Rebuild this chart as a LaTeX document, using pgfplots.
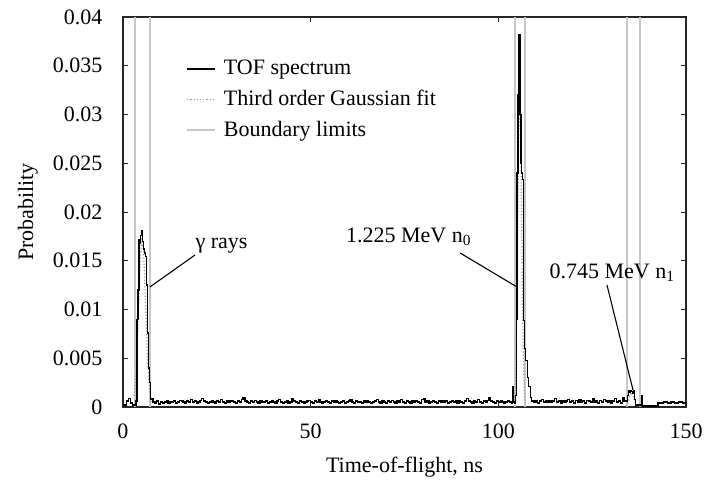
\documentclass[border=0pt]{standalone}
\usepackage{fontspec}
\setmainfont{Liberation Serif}
\usepackage{pgfplots}
\pgfplotsset{compat=1.18}
\definecolor{axisgray}{gray}{0.15}
\definecolor{boundgray}{gray}{0.78}
\definecolor{fitgray}{gray}{0.6}
\begin{document}
\fontsize{22bp}{26bp}\selectfont
\begin{tikzpicture}
\begin{axis}[
  scale only axis, width=563bp, height=390bp,
  xmin=0, xmax=150, ymin=0, ymax=0.04,
  xtick={0,50,100,150},
  ytick={0,0.005,0.01,0.015,0.02,0.025,0.03,0.035,0.04},
  scaled y ticks=false,
  /pgf/number format/assume math mode=true,
  yticklabel style={/pgf/number format/fixed,/pgf/number format/precision=3,xshift=-13bp},
  xticklabel style={yshift=-9bp},
  xlabel={Time-of-flight, ns}, ylabel={Probability},
  ylabel style={at={(axis description cs:-0.169,0.5)}, anchor=center},
  xlabel style={at={(axis description cs:0.5,-0.154)}, anchor=center},
  axis line style={line width=1.2bp, axisgray},
  every tick/.style={axisgray, line width=0.8bp},
  major tick length=5bp,
  legend style={draw=none, fill=none, at={(axis description cs:0.107,0.90)}, anchor=north west, row sep=8bp, column sep=6bp, font=\fontsize{22bp}{26bp}\selectfont},
  legend cell align=left,
  legend image code/.code={\draw[#1] (0bp,0bp) -- (28bp,0bp);},
]
% boundary limits
\addplot[boundgray, line width=1.5bp, forget plot] coordinates {(3.2,0) (3.2,0.04)};
\addplot[boundgray, line width=1.5bp, forget plot] coordinates {(7.2,0) (7.2,0.04)};
\addplot[boundgray, line width=1.5bp, forget plot] coordinates {(104.4,0) (104.4,0.04)};
\addplot[boundgray, line width=1.5bp, forget plot] coordinates {(107.1,0) (107.1,0.04)};
\addplot[boundgray, line width=1.5bp, forget plot] coordinates {(134.3,0) (134.3,0.04)};
\addplot[boundgray, line width=1.5bp, forget plot] coordinates {(137.8,0) (137.8,0.04)};
% Gaussian fits
\addplot[fitgray, dotted, line width=1.2bp, forget plot] coordinates {
(3.0,0.00115) (3.5,0.0036) (4.0,0.0083) (4.5,0.0140) (5.0,0.0174) (5.5,0.0159) (6.0,0.0106) (6.5,0.0052) (7.0,0.0019) (7.5,0.0005)};
\addplot[fitgray, dotted, line width=1.2bp, forget plot] coordinates {
(104.2,0.00036) (104.45,0.0014) (104.7,0.0043) (104.95,0.0104) (105.2,0.0194) (105.45,0.0282) (105.7,0.032) (105.95,0.0282) (106.2,0.0194) (106.45,0.0104) (106.7,0.0043) (106.95,0.0014) (107.2,0.00036)};
\addplot[fitgray, dotted, line width=1.2bp, forget plot] coordinates {
(134.0,0.00007) (134.5,0.00037) (135.0,0.00106) (135.5,0.0015) (136.0,0.00106) (136.5,0.00037) (137.0,0.00007)};
% TOF spectrum
\addplot[black, line width=1.3bp, const plot, y filter/.expression={y*0.0001}] table {
x y
0.0 2
0.5 2
1.0 6
1.5 9
2.0 4
2.5 2
3.0 2
3.5 6
3.75 90
4.0 120
4.25 172
4.5 168
4.75 176
5.0 181
5.25 170
5.5 162
5.75 158
6.0 154
6.25 125
6.5 76
6.75 40
7.0 25
7.25 8
7.5 9
8.0 5
8.5 4
9.0 6
9.5 3
10.0 5
10.5 4
11.0 5
11.5 6
12.0 4
12.5 5
13.0 5
13.5 6
14.0 4
14.5 5
15.0 7
15.5 6
16.0 5
16.5 4
17.0 6
17.5 5
18.0 8
18.5 5
19.0 6
19.5 4
20.0 5
20.5 7
21.0 9
21.5 6
22.0 5
22.5 4
23.0 5
23.5 6
24.0 5
24.5 4
25.0 6
25.5 5
26.0 8
26.5 5
27.0 4
27.5 6
28.0 5
28.5 7
29.0 6
29.5 5
30.0 4
30.5 6
31.0 5
31.5 8
32.0 10
32.5 6
33.0 5
33.5 4
34.0 6
34.5 5
35.0 7
35.5 5
36.0 4
36.5 6
37.0 5
37.5 5
38.0 6
38.5 4
39.0 5
39.5 7
40.0 5
40.5 4
41.0 6
41.5 8
42.0 5
42.5 4
43.0 5
43.5 6
44.0 4
44.5 5
45.0 9
45.5 6
46.0 5
46.5 4
47.0 6
47.5 5
48.0 4
48.5 5
49.0 6
49.5 7
50.0 5
50.5 4
51.0 6
51.5 5
52.0 8
52.5 5
53.0 4
53.5 5
54.0 6
54.5 5
55.0 4
55.5 6
56.0 5
56.5 7
57.0 5
57.5 4
58.0 5
58.5 6
59.0 4
59.5 5
60.0 6
60.5 8
61.0 5
61.5 4
62.0 6
62.5 5
63.0 5
63.5 4
64.0 6
64.5 5
65.0 7
65.5 5
66.0 4
66.5 5
67.0 6
67.5 8
68.0 5
68.5 4
69.0 6
69.5 5
70.0 4
70.5 6
71.0 5
71.5 7
72.0 5
72.5 4
73.0 6
73.5 5
74.0 8
74.5 5
75.0 4
75.5 6
76.0 5
76.5 4
77.0 7
77.5 5
78.0 6
78.5 5
79.0 4
79.5 8
80.0 9
80.5 5
81.0 6
81.5 4
82.0 5
82.5 6
83.0 5
83.5 4
84.0 6
84.5 5
85.0 7
85.5 5
86.0 6
86.5 4
87.0 5
87.5 6
88.0 5
88.5 7
89.0 4
89.5 6
90.0 5
90.5 4
91.0 6
91.5 9
92.0 6
92.5 5
93.0 4
93.5 6
94.0 5
94.5 8
95.0 5
95.5 4
96.0 6
96.5 5
97.0 7
97.5 10
98.0 6
98.5 5
99.0 4
99.5 6
100.0 5
100.5 7
101.0 5
101.5 4
102.0 5
102.5 6
103.0 5
103.5 4
103.75 21
104.0 5
104.25 4
104.5 12
104.75 90
105.0 240
105.25 320
105.5 382
105.75 300
106.0 250
106.25 240
106.5 233
106.75 89
107.0 60
107.25 48
107.5 48
107.75 30
108.0 21
108.25 21
108.5 10
108.75 6
109.0 6
109.5 5
110.0 7
110.5 4
111.0 6
111.5 8
112.0 5
112.5 6
113.0 5
113.5 7
114.0 5
114.5 6
115.0 9
115.5 5
116.0 6
116.5 4
117.0 7
117.5 5
118.0 6
118.5 8
119.0 5
119.5 6
120.0 4
120.5 7
121.0 5
121.5 8
122.0 5
122.5 6
123.0 4
123.5 7
124.0 6
124.5 5
125.0 9
125.5 5
126.0 6
126.5 4
127.0 7
127.5 5
128.0 8
128.5 6
129.0 5
129.5 7
130.0 4
130.5 6
131.0 9
131.5 5
132.0 6
132.5 4
133.0 10
133.5 6
134.0 6
134.5 12
134.75 17
135.0 15
135.25 17
135.5 16
135.75 14
136.0 17
136.25 8
136.5 2
137.0 2
137.5 2
138.0 2
138.25 12
138.5 1
139.0 1
140.0 1
141.0 1
142.0 1
142.5 4
143.0 4
144.0 5
145.0 4
146.0 5
147.0 4
148.0 5
149.0 4
150.0 4
};
\addlegendentry{TOF spectrum}
\addlegendimage{fitgray, dotted, line width=1.2bp}
\addlegendentry{Third order Gaussian fit}
\addlegendimage{boundgray, line width=1.5bp}
\addlegendentry{Boundary limits}
% annotations
\node at (axis cs:26.24,0.01651) {γ rays};
\draw[black, line width=1.1bp] (axis cs:19.18,0.01559) -- (axis cs:7.19,0.01231);
\node at (axis cs:76.07,0.01744) {1.225 MeV n\textsubscript{0}};
\draw[black, line width=1.1bp] (axis cs:89.79,0.0158) -- (axis cs:104.97,0.01231);
\node at (axis cs:130.3,0.01374) {0.745 MeV n\textsubscript{1}};
\draw[black, line width=1.1bp] (axis cs:128.95,0.01251) -- (axis cs:135.88,0.00174);
\end{axis}
\path ([shift={(-123bp,-72bp)}]current axis.south west) rectangle ([shift={(29bp,17bp)}]current axis.north east);
\end{tikzpicture}
\end{document}
